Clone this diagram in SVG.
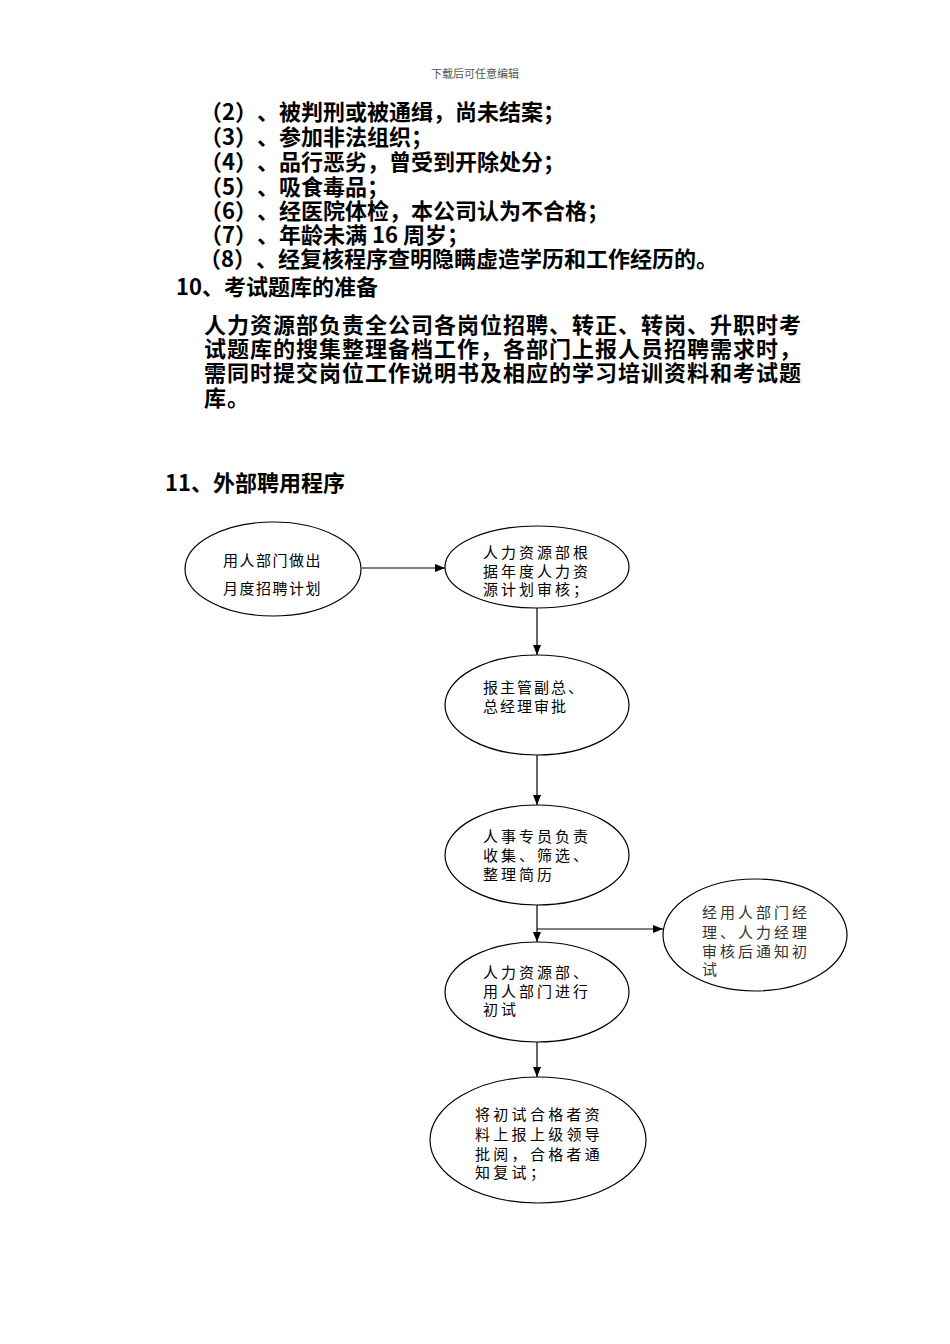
<svg xmlns="http://www.w3.org/2000/svg" width="950" height="1344" viewBox="0 0 950 1344">
<style>
text{text-spacing-trim:space-all}
.hdr{font-family:"Noto Sans CJK SC",sans-serif;font-size:11px;fill:#555}
.b{font-family:"Noto Sans CJK SC",sans-serif;font-weight:bold;font-size:22px;fill:#000}
.h{font-family:"Noto Sans CJK SC",sans-serif;font-weight:bold;font-size:22px;fill:#000}
.p{font-family:"Noto Sans CJK SC",sans-serif;font-weight:bold;font-size:22px;letter-spacing:1px;fill:#000}
.n{font-family:"Noto Sans CJK SC",sans-serif;font-size:15px;fill:#000}
.e{fill:#fff;stroke:#000;stroke-width:1.2}
.c{fill:none;stroke:#000;stroke-width:1.2}
</style>
<defs>
<marker id="ah" markerWidth="10" markerHeight="8" refX="10" refY="4" orient="auto" markerUnits="userSpaceOnUse">
<path d="M0,0 L10,4 L0,8 Z" fill="#000"/>
</marker>
</defs>
<rect width="950" height="1344" fill="#fff"/>
<text class="hdr" x="475" y="78" text-anchor="middle">下载后可任意编辑</text>
<g id="text-list">
<text class="b" x="200" y="120">（2）、被判刑或被通缉，尚未结案；</text>
<text class="b" x="200" y="145">（3）、参加非法组织；</text>
<text class="b" x="200" y="170">（4）、品行恶劣，曾受到开除处分；</text>
<text class="b" x="200" y="195">（5）、吸食毒品；</text>
<text class="b" x="200" y="219">（6）、经医院体检，本公司认为不合格；</text>
<text class="b" x="200" y="243">（7）、年龄未满 16 周岁；</text>
<text class="b" x="199" y="267">（8）、经复核程序查明隐瞒虚造学历和工作经历的。</text>
</g>
<g id="section10">
<text class="h" x="176" y="295">10、考试题库的准备</text>
<text class="p" x="204" y="333">人力资源部负责全公司各岗位招聘、转正、转岗、升职时考</text>
<text class="p" x="204" y="357">试题库的搜集整理备档工作，各部门上报人员招聘需求时，</text>
<text class="p" x="204" y="381">需同时提交岗位工作说明书及相应的学习培训资料和考试题</text>
<text class="p" x="204" y="406">库。</text>
</g>
<text class="h" x="165" y="491">11、外部聘用程序</text>
<g id="connectors">
<line class="c" x1="362" y1="568" x2="445" y2="568" marker-end="url(#ah)"/>
<line class="c" x1="537" y1="608" x2="537" y2="655" marker-end="url(#ah)"/>
<line class="c" x1="537" y1="755" x2="537" y2="805" marker-end="url(#ah)"/>
<line class="c" x1="537" y1="905" x2="537" y2="942" marker-end="url(#ah)"/>
<line class="c" x1="537" y1="929" x2="663" y2="929" marker-end="url(#ah)"/>
<line class="c" x1="537" y1="1042" x2="537" y2="1077" marker-end="url(#ah)"/>
</g>
<g id="n1">
<ellipse class="e" cx="273" cy="569" rx="88" ry="47"/>
<text class="n" x="223" y="566" style="letter-spacing:1.5px">用人部门做出</text>
<text class="n" x="223" y="594" style="letter-spacing:1.5px">月度招聘计划</text>
</g>
<g id="n2">
<ellipse class="e" cx="537" cy="567" rx="92" ry="41"/>
<text class="n" x="483" y="558" style="letter-spacing:3px">人力资源部根</text>
<text class="n" x="483" y="577" style="letter-spacing:3px">据年度人力资</text>
<text class="n" x="483" y="595" style="letter-spacing:3px">源计划审核；</text>
</g>
<g id="n3">
<ellipse class="e" cx="537" cy="705" rx="92" ry="50"/>
<text class="n" x="483" y="693" style="letter-spacing:2px">报主管副总、</text>
<text class="n" x="483" y="712" style="letter-spacing:2px">总经理审批</text>
</g>
<g id="n4">
<ellipse class="e" cx="537" cy="855" rx="92" ry="50"/>
<text class="n" x="483" y="842" style="letter-spacing:3px">人事专员负责</text>
<text class="n" x="483" y="861" style="letter-spacing:3px">收集、筛选、</text>
<text class="n" x="483" y="880" style="letter-spacing:3px">整理简历</text>
</g>
<g id="n5">
<ellipse class="e" cx="537" cy="992" rx="92" ry="50"/>
<text class="n" x="483" y="978" style="letter-spacing:3px">人力资源部、</text>
<text class="n" x="483" y="997" style="letter-spacing:3px">用人部门进行</text>
<text class="n" x="483" y="1015" style="letter-spacing:3px">初试</text>
</g>
<g id="n6">
<ellipse class="e" cx="755" cy="935" rx="92" ry="56"/>
<text class="n" x="702" y="918" style="letter-spacing:3px;fill:#333">经用人部门经</text>
<text class="n" x="702" y="938" style="letter-spacing:3px;fill:#333">理、人力经理</text>
<text class="n" x="702" y="957" style="letter-spacing:3px;fill:#333">审核后通知初</text>
<text class="n" x="702" y="975" style="letter-spacing:3px;fill:#333">试</text>
</g>
<g id="n7">
<ellipse class="e" cx="538" cy="1140" rx="108" ry="63"/>
<text class="n" x="475" y="1120" style="letter-spacing:3.3px">将初试合格者资</text>
<text class="n" x="475" y="1140" style="letter-spacing:3.3px">料上报上级领导</text>
<text class="n" x="475" y="1160" style="letter-spacing:3.3px">批阅，合格者通</text>
<text class="n" x="475" y="1178" style="letter-spacing:3.3px">知复试；</text>
</g>
</svg>
